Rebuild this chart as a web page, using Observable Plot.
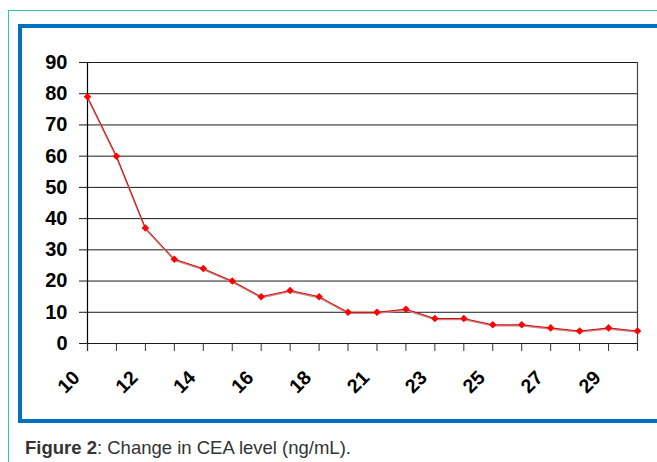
<!DOCTYPE html>
<html>
<head>
<meta charset="utf-8">
<script src="https://cdn.jsdelivr.net/npm/d3@7"></script>
<script src="https://cdn.jsdelivr.net/npm/@observablehq/plot@0.6"></script>
<style>
  html, body { margin: 0; padding: 0; background: #fff; }
  body { width: 657px; height: 462px; position: relative; overflow: hidden; font-family: "Liberation Sans", Arial, sans-serif; }
  #teal { position: absolute; left: 8px; top: 10px; width: 700px; height: 500px; border: 1px solid #2ec4b0; box-sizing: border-box; }
  #blue { position: absolute; left: 18px; top: 24px; width: 660px; height: 399px; border: 4px solid #0070c0; box-sizing: border-box; background: #fff; }
  #chart { position: absolute; left: 0; top: 0; }
  #caption { position: absolute; left: 25px; top: 437px; font-size: 18.5px; line-height: 22px; color: #333; white-space: nowrap; }
</style>
</head>
<body>
<div id="teal"></div>
<div id="blue"></div>
<div id="chart"></div>
<div id="caption"><b>Figure 2</b>: Change in CEA level (ng/mL).</div>
<script>
const categories = ["10","11","12","13","14","15","16","17","18","19","21","22","23","24","25","26","27","28","29","30"];
const values = [79, 60, 37, 27, 24, 20, 15, 17, 15, 10, 10, 11, 8, 8, 6, 6, 5, 4, 5, 4];
const labeledCategories = ["10","12","14","16","18","21","23","25","27","29"];
const yTicks = [0, 10, 20, 30, 40, 50, 60, 70, 80, 90];

const data = categories.map((c, i) => ({cat: c, value: values[i]}));
const labeled = new Set(labeledCategories);

const plot = Plot.plot({
  width: 657,
  height: 400,
  marginLeft: 87,
  marginRight: 20,
  marginTop: 62,
  marginBottom: 57,
  style: {background: "transparent", fontFamily: "'Liberation Sans', Arial, sans-serif", color: "#000"},
  x: {type: "point", domain: categories, padding: 0, round: false, label: null},
  y: {domain: [0, 90], label: null},
  marks: [
    Plot.ruleY(yTicks, {stroke: "#1a1a1a", strokeWidth: 1, insetLeft: -8}),
    Plot.ruleX([categories[0]], {stroke: "#000", strokeWidth: 1.2, insetBottom: -8}),
    Plot.ruleX([categories[categories.length - 1]], {stroke: "#444", strokeWidth: 1.2, insetBottom: -8}),
    Plot.axisY({ticks: yTicks, tickSize: 0, tickPadding: 20, fontSize: 20, fontWeight: "bold", fill: "#000", label: null}),
    Plot.axisX({ticks: categories, tickSize: 8, stroke: "#333", tickFormat: () => "", label: null}),
    Plot.axisX({ticks: labeledCategories, tickSize: 0, tickRotate: -45, tickPadding: 31, dx: -11, fontSize: 19.5, fontWeight: "bold", fill: "#000", label: null}),
    Plot.line(data, {x: "cat", y: "value", stroke: "#c48a8a", strokeWidth: 1.6, dy: 1}),
    Plot.line(data, {x: "cat", y: "value", stroke: "#e00000", strokeWidth: 1}),
    Plot.dot(data, {x: "cat", y: "value", symbol: "diamond2", r: 3.4, fill: "#ff0000", stroke: "none"})
  ]
});
document.getElementById("chart").appendChild(plot);
</script>
</body>
</html>
